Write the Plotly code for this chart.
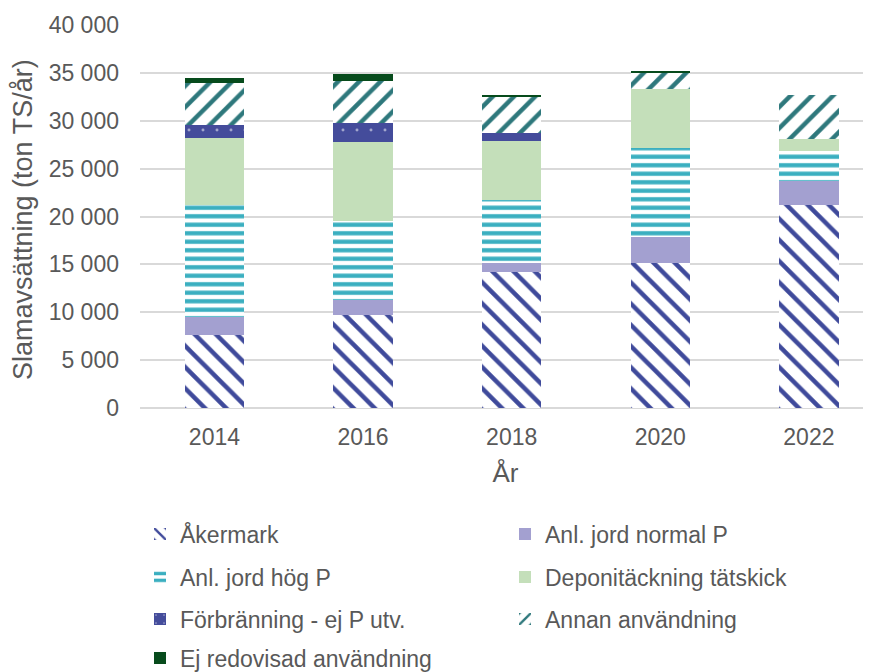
import plotly.graph_objects as go

years = ["2014", "2016", "2018", "2020", "2022"]

akermark = [7600, 9750, 14200, 15150, 21250]
anl_normal = [1900, 1570, 940, 2700, 2450]
anl_hog = [11650, 8200, 6620, 9340, 3100]
deponi = [7070, 8290, 6090, 6080, 1290]
forbranning = [1360, 1940, 860, 0, 0]
annan = [4340, 4390, 3870, 1810, 4630]
ej_redovisad = [570, 770, 140, 150, 0]

series_names = [
    "Åkermark",
    "Anl. jord normal P",
    "Anl. jord hög P",
    "Deponitäckning tätskick",
    "Förbränning - ej P utv.",
    "Annan användning",
    "Ej redovisad användning",
]
series_values = [akermark, anl_normal, anl_hog, deponi, forbranning, annan, ej_redovisad]

y_title = "Slamavsättning (ton TS/år)"
x_title = "År"

FONT = "Liberation Sans, Arial, sans-serif"
GRAY = "#595959"

styles = [
    dict(color="#3F4A9B", pattern=dict(shape="\\", fillmode="replace", bgcolor="white", size=15, solidity=0.3)),
    dict(color="#A3A0D0"),
    dict(color="#3BAFC0", pattern=dict(shape="-", fillmode="replace", bgcolor="white", size=8.5, solidity=0.5)),
    dict(color="#C4DFBA"),
    dict(color="#444C9B", pattern=dict(shape=".", fillmode="overlay", fgcolor="white", bgcolor="#444C9B", size=14, solidity=0.035)),
    dict(color="#2E787C", pattern=dict(shape="/", fillmode="replace", bgcolor="white", size=15, solidity=0.3)),
    dict(color="#074B1C"),
]

# The page has an 8px body margin, so the figure is drawn 8px smaller
W, H = 863, 664
plot_left, plot_top, plot_bottom = 132, 17, 400
plot_w = W - plot_left
plot_h = plot_bottom - plot_top

# legend positions in figure pixels (left edge of legend box, centre of row)
leg_left = [132, 497, 132, 497, 132, 497, 132]
row_px = [526, 526, 569, 569, 611, 611, 650]

fig = go.Figure()
for i, (name, vals, st) in enumerate(zip(series_names, series_values, styles)):
    fig.add_trace(go.Bar(
        x=years, y=vals, name=name,
        marker=dict(line=dict(width=0), **st),
        legend="legend" if i == 0 else f"legend{i+1}",
    ))

legends = {}
for i in range(7):
    key = "legend" if i == 0 else f"legend{i+1}"
    legends[key] = dict(
        xref="container", yref="container",
        x=leg_left[i] / W, xanchor="left",
        y=1 - row_px[i] / H, yanchor="middle",
        bgcolor="rgba(0,0,0,0)",
        font=dict(family=FONT, size=23, color=GRAY),
    )

fig.update_layout(
    width=W, height=H,
    margin=dict(l=plot_left, r=0, t=plot_top, b=H - plot_bottom, autoexpand=False),
    paper_bgcolor="white", plot_bgcolor="white",
    barmode="stack", bargap=0.6,
    separators=", ",
    font=dict(family=FONT, color=GRAY, size=23),
    showlegend=True,
    annotations=[dict(
        text=y_title, textangle=-90, showarrow=False,
        xref="paper", yref="paper",
        x=(15 - plot_left) / plot_w, xanchor="center",
        y=(plot_bottom - 212) / plot_h, yanchor="middle",
        font=dict(family=FONT, size=27, color=GRAY),
    )],
    **legends,
)
fig.update_xaxes(
    type="category", range=[-0.501, 4.418],
    showgrid=False, showline=False, ticks="",
    tickfont=dict(family=FONT, size=23, color=GRAY),
    ticklabelstandoff=13,
    title=dict(text=x_title, font=dict(family=FONT, size=26, color=GRAY), standoff=14),
    automargin=False,
)
fig.update_yaxes(
    range=[0, 40000], tickvals=[0, 5000, 10000, 15000, 20000, 25000, 30000, 35000, 40000],
    tickformat=",d",
    showgrid=True, gridcolor="#D9D9D9", gridwidth=1.5,
    zeroline=True, zerolinecolor="#D9D9D9", zerolinewidth=1.5,
    showline=False, ticks="",
    tickfont=dict(family=FONT, size=23, color=GRAY),
    ticklabelstandoff=20,
    automargin=False,
)

fig.write_html("out.html")
